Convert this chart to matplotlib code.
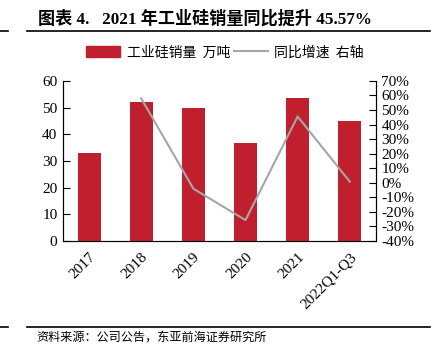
import numpy as np
import matplotlib.pyplot as plt
from matplotlib.patches import Patch
from matplotlib.lines import Line2D

# 数据
years = ["2017", "2018", "2019", "2020", "2021", "2022Q1-Q3"]
sales = [33.0, 52.0, 49.8, 36.9, 53.6, 45.1]          # 万吨
yoy_years = ["2018", "2019", "2020", "2021", "2022Q1-Q3"]
yoy = [58.0, -4.0, -25.6, 45.57, 0.8]                  # %
left_ticks = [0, 10, 20, 30, 40, 50, 60]
right_ticks = [-40, -30, -20, -10, 0, 10, 20, 30, 40, 50, 60, 70]

serif = ["Liberation Serif", "Noto Sans CJK SC"]
cjk = ["Noto Sans CJK SC", "DejaVu Sans"]

fig = plt.figure(figsize=(4.33, 3.55), dpi=100)
ax = fig.add_axes([0.1455, 0.321, 0.7225, 0.451])
ax2 = ax.twinx()

x = np.arange(len(years))
ax.bar(x, sales, width=0.44, color="#C0202E", zorder=2)
xi = [years.index(y) for y in yoy_years]
ax2.plot(xi, yoy, color="#A6A6A6", lw=1.5)

ax.set_xlim(-0.5, len(years) - 0.5)
ax.set_ylim(0, 60)
ax2.set_ylim(-40, 70)
ax.set_yticks(left_ticks)
ax2.set_yticks(right_ticks)
ax2.set_yticklabels([f"{t}%" for t in right_ticks])
ax.set_xticks(x)
ax.set_xticklabels(years, rotation=45, ha="right", rotation_mode="anchor")

for a in (ax, ax2):
    a.spines["top"].set_visible(False)
    for lab in a.get_yticklabels() + a.get_xticklabels():
        lab.set_family(serif)
        lab.set_fontsize(11)
ax.tick_params(axis="y", direction="in", length=5, pad=4)
ax2.tick_params(axis="y", direction="in", length=5, pad=4)
ax.tick_params(axis="x", length=0, pad=7)
ax.spines["bottom"].set_color("#555555")

# 图例
handles = [Patch(color="#C0202E"), Line2D([], [], color="#A6A6A6", lw=1.5)]
fig.legend(handles, ["工业硅销量  万吨", "同比增速  右轴"], ncol=2, frameon=False,
           loc="center", bbox_to_anchor=(0.52, 0.852), prop={"family": cjk, "size": 10},
           handlelength=2.4, handleheight=0.8, columnspacing=0.3, handletextpad=0.5)

# 标题
fig.text(0.087, 0.946, "图表 4.   2021 年工业硅销量同比提升 45.57%", family=serif,
         fontsize=12.3, fontweight="bold", va="center")
fig.add_artist(Line2D([0.062, 0.993], [0.913, 0.913], color="black", lw=1.2))
fig.add_artist(Line2D([0.0, 0.018], [0.913, 0.913], color="black", lw=1.2))

# 来源
fig.add_artist(Line2D([0.062, 0.993], [0.079, 0.079], color="black", lw=1.2))
fig.add_artist(Line2D([0.0, 0.018], [0.079, 0.079], color="black", lw=1.2))
fig.text(0.085, 0.05, "资料来源：公司公告，东亚前海证券研究所", family=cjk,
         fontsize=8.7, va="center")

fig.savefig("out.png", dpi=100)
